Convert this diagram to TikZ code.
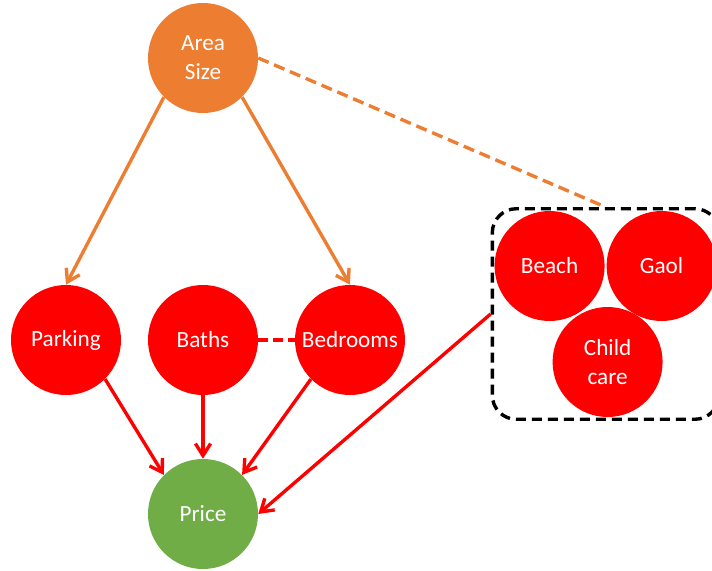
\documentclass[tikz,border=0pt]{standalone}
\usepackage{fontspec}
\setmainfont{Carlito}
\usepackage{tikz}
\usetikzlibrary{shapes.geometric, arrows.meta, fit}
\definecolor{areaorange}{HTML}{ED7D31}
\definecolor{factorred}{HTML}{FF0000}
\definecolor{pricegreen}{HTML}{70AD47}
\tikzstyle{feature} = [circle, minimum size=2.75cm, inner sep=0pt, text centered, align=center, text=white, font=\fontsize{16.5}{20.5}\selectfont]
\tikzstyle{area} = [feature, fill=areaorange]
\tikzstyle{factor} = [feature, fill=factorred]
\tikzstyle{target} = [feature, fill=pricegreen]
\tikzstyle{group} = [draw=black, line width=2.4pt, dash pattern=on 0.25cm off 0.15cm, rounded corners=0.6cm, inner sep=0.05cm]
\tikzstyle{orangearrow} = [line width=2.4pt, draw=areaorange, ->, >={Straight Barb[length=0.3cm, width=0.38cm]}]
\tikzstyle{redarrow} = [line width=2.4pt, draw=factorred, ->, >={Straight Barb[length=0.3cm, width=0.38cm]}]
\tikzstyle{orangedash} = [line width=2.4pt, draw=areaorange, dash pattern=on 0.28cm off 0.15cm]
\tikzstyle{reddash} = [line width=2.4pt, draw=factorred, dash pattern=on 0.25cm off 0.12cm]

\begin{document}
\begin{tikzpicture}[node distance=3.5cm]

\useasboundingbox (-5.075,1.45) rectangle (12.725,-12.8);

\node (areasize) [area] {Area\\Size};
\node (baths) [factor, below of=areasize, yshift=-3.55cm] {Baths};
\node (parking) [factor, left of=baths, xshift=0.075cm] {Parking};
\node (bedrooms) [factor, right of=baths, xshift=0.175cm] {Bedrooms};
\node (price) [target, below of=baths, yshift=-0.85cm] {Price};
\node (beach) [factor, right of=bedrooms, xshift=1.49cm, yshift=1.85cm] {Beach};
\node (gaol) [factor, right of=beach, xshift=-0.7cm] {Gaol};
\node (childcare) [factor, below of=beach, xshift=1.45cm, yshift=1.1cm] {Child\\care};
\node (amenities) [group, fit=(beach)(gaol)(childcare)] {};

\draw [orangearrow] (areasize.south west) -- (parking.north);
\draw [orangearrow] (areasize.south east) -- (bedrooms.north);
\draw [orangedash] (areasize.east) -- (amenities.north);
\draw [reddash] (baths.east) -- (bedrooms.west);
\draw [redarrow] (parking.south east) -- (price.north west);
\draw [redarrow] (baths) -- (price);
\draw [redarrow] (bedrooms.south west) -- (price.north east);
\draw [redarrow] (amenities.west) -- (price.east);

\end{tikzpicture}
\end{document}
